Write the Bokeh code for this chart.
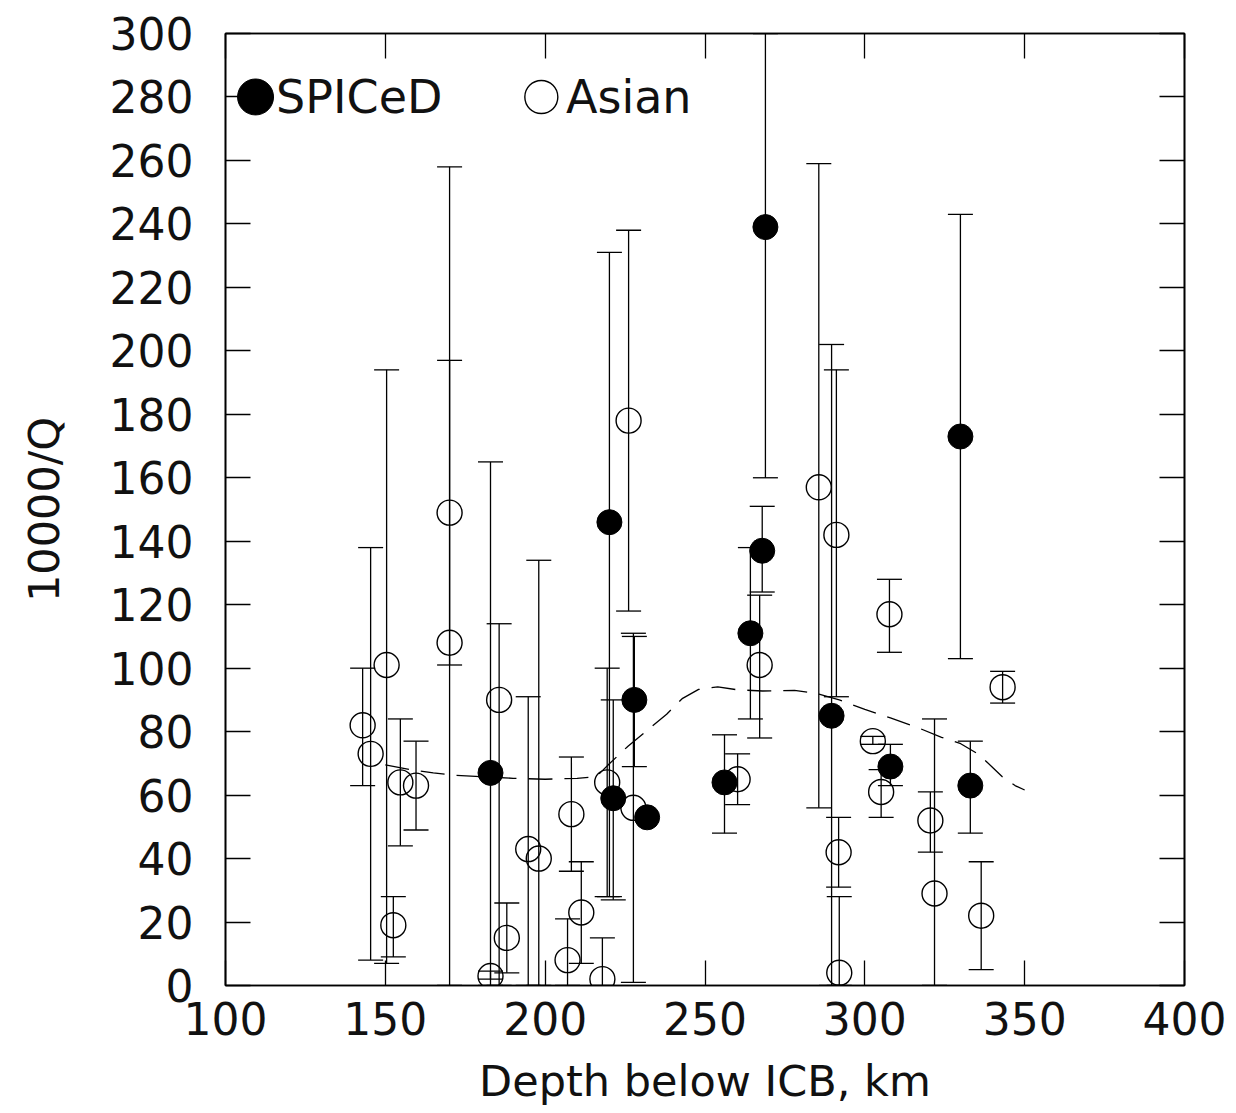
from bokeh.plotting import figure
from bokeh.models import (ColumnDataSource, Whisker, TeeHead, LinearAxis, Range1d,
                          SingleIntervalTicker, Label, CustomJSTickFormatter)
from bokeh.embed import file_html
from bokeh.resources import INLINE

FONT = "DejaVu Sans"

# ---------------- data ----------------
spiced_x = [182.9, 220.1, 221.3, 227.9, 231.9, 256.1, 264.2, 267.9, 268.9, 289.6, 308.0, 329.9, 333.0]
spiced_y = [67, 146, 59, 90, 53, 64, 111, 137, 239, 85, 69, 173, 63]
spiced_lo = [0, 28, 27, 69, None, 48, 84, 124, 160, 0, 63, 103, 48]
spiced_hi = [165, 231, 90, 110, None, 79, 138, 151, 300, 202, 76, 243, 77]

asian_x = [142.9, 145.4, 150.4, 152.5, 154.7, 159.6, 170.1, 170.1, 182.9, 185.6, 188.0,
           194.7, 198.0, 207.0, 208.2, 211.3, 217.9, 219.4, 226.1, 227.6, 260.2, 267.1,
           285.6, 291.1, 291.8, 292.0, 302.5, 305.1, 307.7, 320.5, 321.8, 336.4, 343.1]
asian_y = [82, 73, 101, 19, 64, 63, 149, 108, 3, 90, 15,
           43, 40, 8, 54, 23, 2, 64, 178, 56, 65, 101,
           157, 142, 42, 4, 77, 61, 117, 52, 29, 22, 94]
asian_lo = [63, 8, 7, 9, 44, 49, 0, 101, 2, 0, 4,
            0, 0, 0, 36, 7, 0, 28, 118, 1, 57, 78,
            56, 91, 31, 0, 76, 53, 105, 42, 0, 5, 89]
asian_hi = [100, 138, 194, 28, 84, 77, 258, 197, 4.5, 114, 26,
            91, 134, 21, 72, 39, 15, 100, 238, 111, 73, 123,
            259, 194, 53, 28, 78.5, 68, 128, 61, 84, 39, 99]

curve_x = [150, 158, 165, 172, 180, 190, 200, 210, 216, 220, 226, 232, 238, 243, 248,
           254, 260, 268, 278, 285, 292, 300, 308, 316, 324, 330, 335, 338, 343, 347, 350]
curve_y = [69.5, 68.0, 67.0, 66.2, 65.8, 65.3, 65.0, 65.3, 65.8, 69.8, 75.5, 80.5, 85.5,
           90.5, 93.3, 94.1, 93.2, 92.8, 93.0, 92.0, 90.0, 87.0, 84.3, 81.5, 78.2, 76.2,
           73.2, 70.6, 65.8, 63.0, 61.6]

x_ticks_step = 50
y_ticks_step = 20
x_label = "Depth below ICB, km"
y_label = "10000/Q"
legend_names = ["SPICeD", "Asian"]

# ---------------- figure ----------------
p = figure(width=1228, height=1108, x_range=Range1d(100, 400), y_range=Range1d(0, 300),
           output_backend="svg", toolbar_location=None,
           min_border_left=225, min_border_right=44, min_border_top=33, min_border_bottom=115)
p.xgrid.visible = False
p.ygrid.visible = False
p.outline_line_color = "black"
p.outline_line_width = 1.6
p.background_fill_color = "white"
p.border_fill_color = "white"

def style_axis(ax, step, labels=True):
    ax.ticker = SingleIntervalTicker(interval=step)
    ax.major_tick_in = 25
    ax.major_tick_out = 0
    ax.minor_tick_line_color = None
    ax.major_tick_line_color = "black"
    ax.major_tick_line_width = 1.3
    ax.axis_line_color = "black"
    ax.axis_line_width = 1.6
    if labels:
        ax.major_label_text_font = FONT
        ax.major_label_text_font_size = "44px"
        ax.major_label_text_color = "#111111"
        ax.axis_label_text_font = FONT
        ax.axis_label_text_font_size = "43px"
        ax.axis_label_text_font_style = "normal"
        ax.axis_label_text_color = "#111111"
    else:
        ax.formatter = CustomJSTickFormatter(code="return '';")
        ax.major_label_standoff = 0

xa = p.xaxis[0]
style_axis(xa, x_ticks_step)
xa.axis_label = x_label
xa.major_label_standoff = 12
xa.axis_label_standoff = 18

ya = p.yaxis[0]
style_axis(ya, y_ticks_step)
ya.axis_label = y_label
ya.major_label_standoff = 28
ya.axis_label_standoff = 38

top = LinearAxis()
style_axis(top, x_ticks_step, labels=False)
p.add_layout(top, "above")
right = LinearAxis()
style_axis(right, y_ticks_step, labels=False)
p.add_layout(right, "right")

# ---------------- dashed model curve ----------------
p.line(curve_x, curve_y, line_color="black", line_width=1.3, line_dash="24 12")

# ---------------- error bars ----------------
def bars(xs, los, his):
    keep = [i for i in range(len(xs)) if los[i] is not None]
    src = ColumnDataSource(dict(x=[xs[i] for i in keep],
                                lo=[los[i] for i in keep],
                                hi=[his[i] for i in keep]))
    w = Whisker(source=src, base="x", lower="lo", upper="hi", dimension="height",
                line_color="black", line_width=1.3,
                upper_head=TeeHead(size=25, line_color="black", line_width=1.3),
                lower_head=TeeHead(size=25, line_color="black", line_width=1.3))
    p.add_layout(w)

bars(asian_x, asian_lo, asian_hi)
bars(spiced_x, spiced_lo, spiced_hi)

# ---------------- markers ----------------
p.scatter(asian_x, asian_y, size=25, marker="circle", fill_color=None,
          line_color="black", line_width=1.4)
p.scatter(spiced_x, spiced_y, size=25, marker="circle", fill_color="black",
          line_color="black")

# ---------------- legend (drawn) ----------------
p.scatter([109.4], [280], size=36, marker="circle", fill_color="black", line_color="black")
p.scatter([198.8], [280], size=33, marker="circle", fill_color=None, line_color="black",
          line_width=1.4)
p.add_layout(Label(x=115.8, y=280, text=legend_names[0], text_font=FONT,
                   text_font_size="46px", text_baseline="middle", text_color="#111111"))
p.add_layout(Label(x=206.5, y=280, text=legend_names[1], text_font=FONT,
                   text_font_size="46px", text_baseline="middle", text_color="#111111"))

open("out.html", "w").write(file_html(p, INLINE))
